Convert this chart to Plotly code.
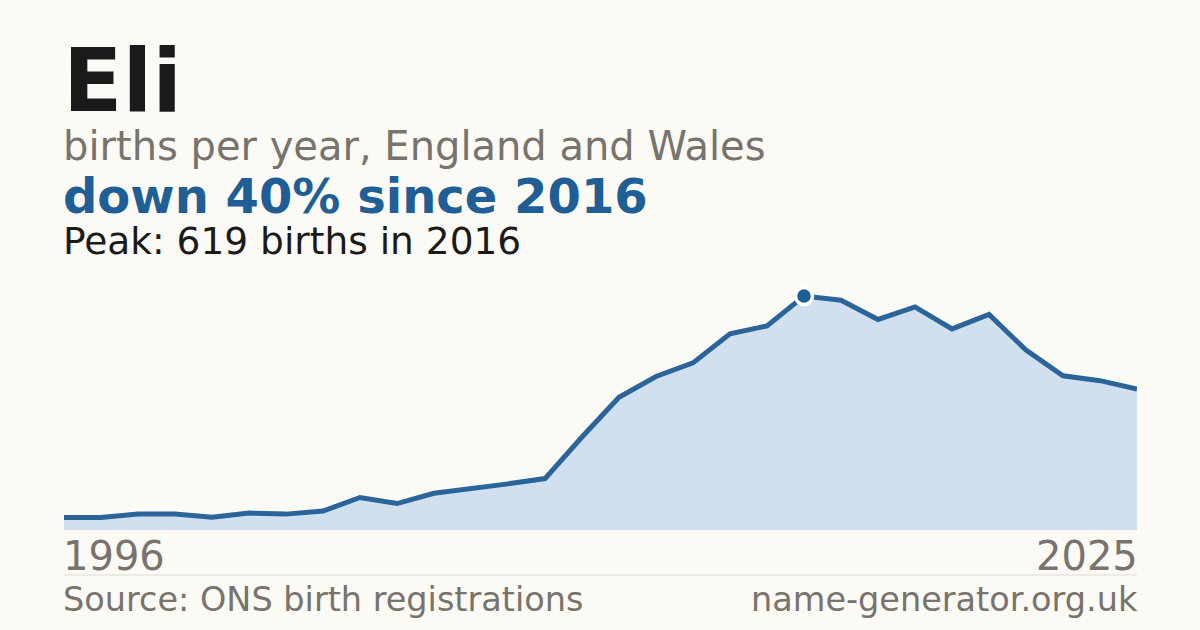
import plotly.graph_objects as go

# data
years = list(range(1996, 2026))
births = [33, 33, 42, 42, 34, 45, 42, 50, 86, 70, 97, 108, 122, 136, 246,
          351, 406, 442, 519, 540, 619, 608, 557, 590, 532, 570, 476, 408, 395, 373]

name = "Eli"
subtitle = "births per year, England and Wales"
headline = "down 40% since 2016"
peak_note = "Peak: 619 births in 2016"
source = "Source: ONS birth registrations"
site = "name-generator.org.uk"

W, H = 1200, 630
L, R, T, B = 64, 63, 280, 100
peak = max(births)
peak_year = years[births.index(peak)]
ymax = peak * (530 - T) / (530 - 296)

BG = "#fbfaf5"
BLUE = "#1f5f96"
GREY = "#78736c"
FONT = "DejaVu Sans"


def py(pix):
    # pixel row -> paper y
    return (H - B - pix) / (H - T - B)


fig = go.Figure()
fig.add_trace(go.Scatter(
    x=years, y=births, mode="lines", fill="tozeroy",
    fillcolor="#d0e0ef", line=dict(color="#2a6499", width=5),
    hoverinfo="skip"))
fig.add_trace(go.Scatter(
    x=[peak_year], y=[peak], mode="markers", cliponaxis=False,
    marker=dict(size=17, color=BLUE, line=dict(color="white", width=3.5)),
    hoverinfo="skip"))

ann = [
    dict(text=f"<b>{name}</b>", x=0, y=py(81), size=87, color="#1a1a1a", xa="left"),
    dict(text=subtitle, x=0, y=py(146), size=40, color=GREY, xa="left"),
    dict(text=f"<b>{headline}</b>", x=0, y=py(196), size=48, color=BLUE, xa="left"),
    dict(text=peak_note, x=0, y=py(241), size=37.5, color="#1a1a1a", xa="left"),
    dict(text=str(years[0]), x=0, y=py(556), size=40, color=GREY, xa="left"),
    dict(text=str(years[-1]), x=1, y=py(556), size=40, color=GREY, xa="right"),
    dict(text=source, x=0, y=py(599), size=33.5, color=GREY, xa="left"),
    dict(text=site, x=1, y=py(599), size=33.5, color=GREY, xa="right"),
]
for a in ann:
    fig.add_annotation(text=a["text"], x=a["x"], y=a["y"], xref="paper", yref="paper",
                       xanchor=a["xa"], yanchor="middle", showarrow=False,
                       xshift=-3 if a["xa"] == "left" else 3,
                       font=dict(family=FONT, size=a["size"], color=a["color"]))

fig.add_shape(type="line", xref="paper", yref="paper", x0=0, x1=1,
              y0=py(575), y1=py(575), line=dict(color="#dedbd4", width=1))

fig.update_layout(
    width=W, height=H, paper_bgcolor=BG, plot_bgcolor=BG,
    margin=dict(l=L, r=R, t=T, b=B), showlegend=False,
    xaxis=dict(range=[years[0], years[-1]], visible=False, fixedrange=True),
    yaxis=dict(range=[0, ymax], visible=False, fixedrange=True),
)

fig.write_html("out.html", config={"displayModeBar": False},
               post_script="document.body.style.margin='0';"
                           "document.body.style.background='#fbfaf5';")
